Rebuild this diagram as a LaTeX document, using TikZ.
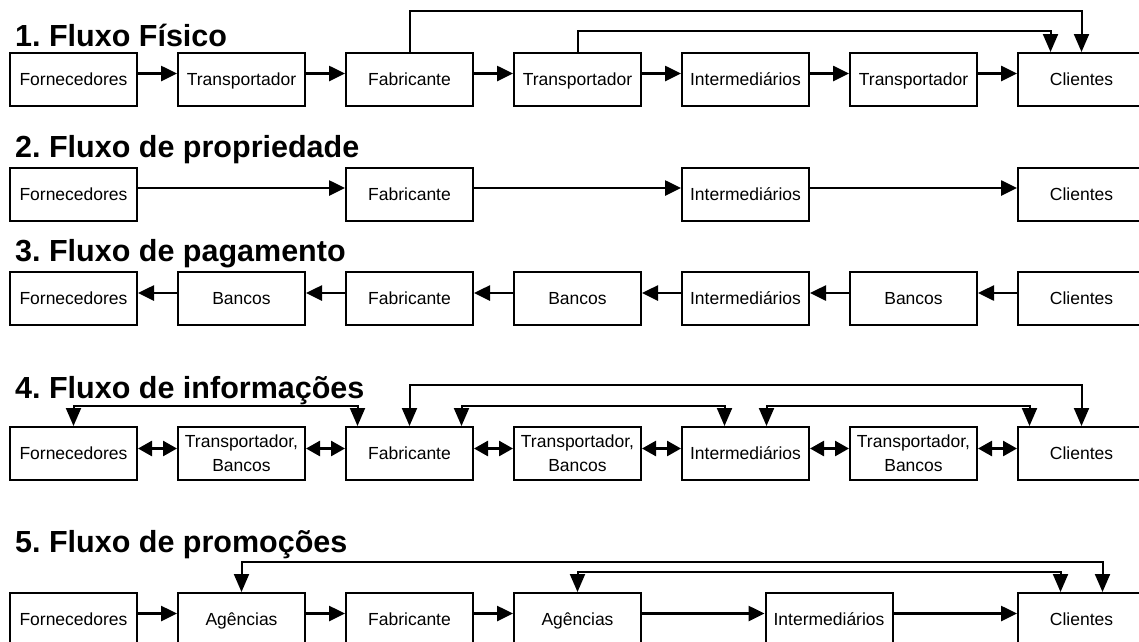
\documentclass[tikz,border=0pt]{standalone}
\usepackage{fontspec}
\setmainfont{Liberation Sans}
\usetikzlibrary{arrows.meta}
\frenchspacing
\newcommand{\stagefont}{\fontsize{17.5}{24}\selectfont}
\newcommand{\flowfont}{\fontsize{30.5}{36}\selectfont\bfseries}
\tikzset{
    stage/.style={draw, line width=2pt, minimum width=127pt, minimum height=53pt,
        inner sep=1pt, align=center, font=\stagefont},
    onestage/.style={stage, text height=15pt, text depth=3pt},
    flowtitle/.style={anchor=base west, inner sep=0pt, font=\flowfont},
    flow/.style={line width=2.6pt, -{Triangle[length=16pt,width=15pt]}},
    twoway/.style={line width=2.6pt,
        {Triangle[length=14pt,width=15pt]}-{Triangle[length=14pt,width=15pt]}},
    link/.style={line width=2pt, -{Triangle[length=18pt,width=15pt]}},
    linkboth/.style={line width=2pt,
        {Triangle[length=18pt,width=15pt]}-{Triangle[length=18pt,width=15pt]}},
}
\begin{document}
\begin{tikzpicture}[x=1pt, y=-1pt]
    \fill [white] (0,0) rectangle (1139,641);
    \useasboundingbox (0,0) rectangle (1139,641);

    % 1. physical flow
    \node [flowtitle] (title1) at (15,46) {1. Fluxo Físico};
    \node [onestage] (for1) at (73.5,79.5) {Fornecedores};
    \node [onestage] (tra1) at (241.5,79.5) {Transportador};
    \node [onestage] (fab1) at (409.5,79.5) {Fabricante};
    \node [onestage] (tra2) at (577.5,79.5) {Transportador};
    \node [onestage] (int1) at (745.5,79.5) {Intermediários};
    \node [onestage] (tra3) at (913.5,79.5) {Transportador};
    \node [onestage] (cli1) at (1081.5,79.5) {Clientes};
    \draw [flow] ([yshift=6pt]for1.east) -- ([yshift=6pt]tra1.west);
    \draw [flow] ([yshift=6pt]tra1.east) -- ([yshift=6pt]fab1.west);
    \draw [flow] ([yshift=6pt]fab1.east) -- ([yshift=6pt]tra2.west);
    \draw [flow] ([yshift=6pt]tra2.east) -- ([yshift=6pt]int1.west);
    \draw [flow] ([yshift=6pt]int1.east) -- ([yshift=6pt]tra3.west);
    \draw [flow] ([yshift=6pt]tra3.east) -- ([yshift=6pt]cli1.west);
    \draw [link] (fab1.north) -- ++(0,-41) -| (cli1.north);
    \draw [link] (tra2.north) -- ++(0,-21) -| ([xshift=-31pt]cli1.north);

    % 2. ownership flow
    \node [flowtitle] (title2) at (15,157) {2. Fluxo de propriedade};
    \node [onestage] (for2) at (73.5,194) {Fornecedores};
    \node [onestage] (fab2) at (409.5,194) {Fabricante};
    \node [onestage] (int2) at (745.5,194) {Intermediários};
    \node [onestage] (cli2) at (1081.5,194) {Clientes};
    \draw [flow] ([yshift=6pt]for2.east) -- ([yshift=6pt]fab2.west);
    \draw [flow] ([yshift=6pt]fab2.east) -- ([yshift=6pt]int2.west);
    \draw [flow] ([yshift=6pt]int2.east) -- ([yshift=6pt]cli2.west);

    % 3. payment flow
    \node [flowtitle] (title3) at (15,261) {3. Fluxo de pagamento};
    \node [onestage] (for3) at (73.5,298) {Fornecedores};
    \node [onestage] (ban1) at (241.5,298) {Bancos};
    \node [onestage] (fab3) at (409.5,298) {Fabricante};
    \node [onestage] (ban2) at (577.5,298) {Bancos};
    \node [onestage] (int3) at (745.5,298) {Intermediários};
    \node [onestage] (ban3) at (913.5,298) {Bancos};
    \node [onestage] (cli3) at (1081.5,298) {Clientes};
    \draw [flow] ([yshift=5pt]ban1.west) -- ([yshift=5pt]for3.east);
    \draw [flow] ([yshift=5pt]fab3.west) -- ([yshift=5pt]ban1.east);
    \draw [flow] ([yshift=5pt]ban2.west) -- ([yshift=5pt]fab3.east);
    \draw [flow] ([yshift=5pt]int3.west) -- ([yshift=5pt]ban2.east);
    \draw [flow] ([yshift=5pt]ban3.west) -- ([yshift=5pt]int3.east);
    \draw [flow] ([yshift=5pt]cli3.west) -- ([yshift=5pt]ban3.east);

    % 4. information flow
    \node [flowtitle] (title4) at (15,398) {4. Fluxo de informações};
    \node [onestage] (for4) at (73.5,453.5) {Fornecedores};
    \node [stage] (trb1) at (241.5,453.5) {Transportador,\\Bancos};
    \node [onestage] (fab4) at (409.5,453.5) {Fabricante};
    \node [stage] (trb2) at (577.5,453.5) {Transportador,\\Bancos};
    \node [onestage] (int4) at (745.5,453.5) {Intermediários};
    \node [stage] (trb3) at (913.5,453.5) {Transportador,\\Bancos};
    \node [onestage] (cli4) at (1081.5,453.5) {Clientes};
    \draw [twoway] ([yshift=5pt]for4.east) -- ([yshift=5pt]trb1.west);
    \draw [twoway] ([yshift=5pt]trb1.east) -- ([yshift=5pt]fab4.west);
    \draw [twoway] ([yshift=5pt]fab4.east) -- ([yshift=5pt]trb2.west);
    \draw [twoway] ([yshift=5pt]trb2.east) -- ([yshift=5pt]int4.west);
    \draw [twoway] ([yshift=5pt]int4.east) -- ([yshift=5pt]trb3.west);
    \draw [twoway] ([yshift=5pt]trb3.east) -- ([yshift=5pt]cli4.west);
    \draw [linkboth] (for4.north) -- ++(0,-20) -| ([xshift=-52pt]fab4.north);
    \draw [linkboth] (fab4.north) -- ++(0,-41) -| (cli4.north);
    \draw [linkboth] ([xshift=52pt]fab4.north) -- ++(0,-20) -| ([xshift=-21pt]int4.north);
    \draw [linkboth] ([xshift=21pt]int4.north) -- ++(0,-20) -| ([xshift=-52pt]cli4.north);

    % 5. promotion flow
    \node [flowtitle] (title5) at (15,552) {5. Fluxo de promoções};
    \node [onestage] (for5) at (73.5,619.5) {Fornecedores};
    \node [onestage] (age1) at (241.5,619.5) {Agências};
    \node [onestage] (fab5) at (409.5,619.5) {Fabricante};
    \node [onestage] (age2) at (577.5,619.5) {Agências};
    \node [onestage] (int5) at (829,619.5) {Intermediários};
    \node [onestage] (cli5) at (1081.5,619.5) {Clientes};
    \draw [flow] ([yshift=6pt]for5.east) -- ([yshift=6pt]age1.west);
    \draw [flow] ([yshift=6pt]age1.east) -- ([yshift=6pt]fab5.west);
    \draw [flow] ([yshift=6pt]fab5.east) -- ([yshift=6pt]age2.west);
    \draw [flow] ([yshift=6pt]age2.east) -- ([yshift=6pt]int5.west);
    \draw [flow] ([yshift=6pt]int5.east) -- ([yshift=6pt]cli5.west);
    \draw [linkboth] (age1.north) -- ++(0,-30) -| ([xshift=21pt]cli5.north);
    \draw [linkboth] (age2.north) -- ++(0,-20) -| ([xshift=-21pt]cli5.north);
\end{tikzpicture}
\end{document}
